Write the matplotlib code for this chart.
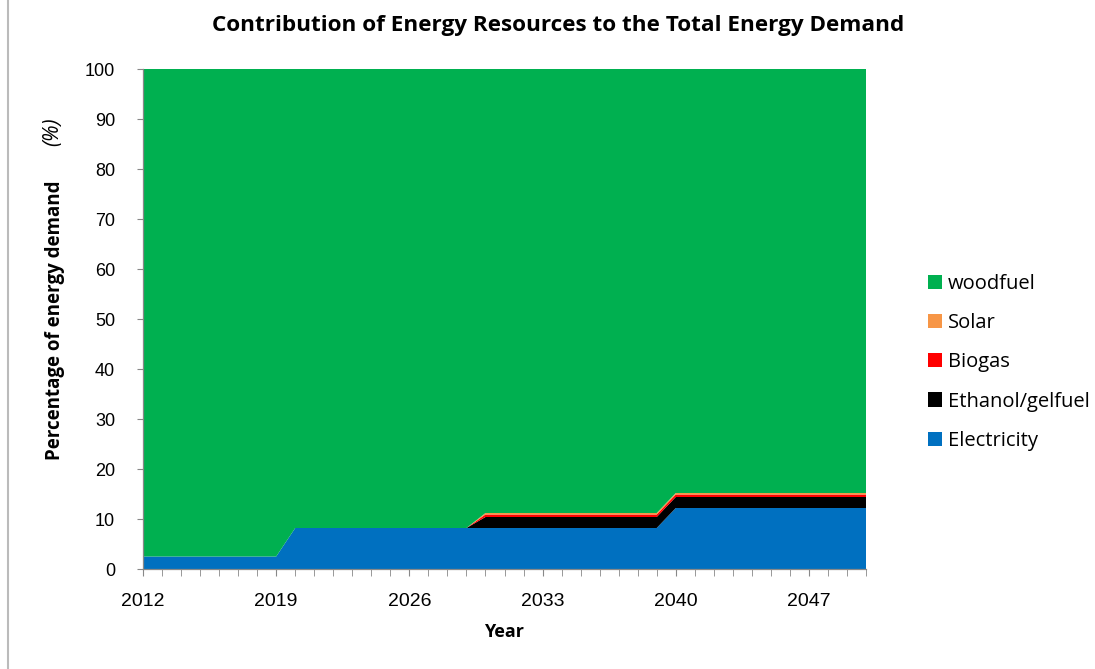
import matplotlib
matplotlib.use('Agg')
import matplotlib.pyplot as plt
from matplotlib.ticker import MultipleLocator, FixedLocator
from matplotlib.patches import Patch

years = list(range(2012, 2051))
electricity = [2.5] * 8 + [8.2] * 20 + [12.2] * 11
ethanol = [0.0] * 18 + [2.2] * 21
biogas = [0.0] * 18 + [0.5] * 21
solar = [0.0] * 18 + [0.3] * 21
woodfuel = [97.5] * 8 + [91.8] * 10 + [88.8] * 10 + [84.8] * 11
label_years = years[::7]

names = ['Electricity', 'Ethanol/gelfuel', 'Biogas', 'Solar', 'woodfuel']
colors = ['#0070C0', '#000000', '#FF0000', '#F79646', '#00B050']

fig = plt.figure(figsize=(10.95, 6.69), dpi=100)
fig.set_facecolor('white')
ax = fig.add_axes([143 / 1095, 1 - 569 / 669, 723 / 1095, 500 / 669])

ax.stackplot(years, electricity, ethanol, biogas, solar, woodfuel,
             colors=colors, linewidth=0)

ax.set_xlim(2012, 2050)
ax.set_ylim(0, 100)
ax.yaxis.set_major_locator(MultipleLocator(10))
ax.xaxis.set_major_locator(FixedLocator(label_years))
ax.xaxis.set_minor_locator(MultipleLocator(1))

for s in ['top', 'right']:
    ax.spines[s].set_visible(False)
for s in ['left', 'bottom']:
    ax.spines[s].set_color('#888888')
    ax.spines[s].set_linewidth(0.9)

tick_font = 'Liberation Sans'
ax.tick_params(axis='y', length=4, color='#888888', pad=16, labelsize=13)
ax.tick_params(axis='x', which='both', length=5, color='#888888', pad=12, labelsize=14)
for lab in ax.get_xticklabels() + ax.get_yticklabels():
    lab.set_fontfamily(tick_font)

fig.text(558 / 1095, 1 - 26 / 669, 'Contribution of Energy Resources to the Total Energy Demand',
         ha='center', va='center', fontsize=16.2, fontweight='bold', family='Open Sans')
fig.text(504 / 1095, 1 - 632 / 669, 'Year', ha='center', va='center',
         fontsize=13, fontweight='bold', family='Open Sans')
fig.text(55 / 1095, 1 - 320 / 669, 'Percentage of energy demand', rotation=90,
         ha='center', va='center', fontsize=13.5, fontweight='bold', family='Open Sans')
fig.text(53 / 1095, 1 - 132 / 669, '(%)', rotation=90, style='italic',
         ha='center', va='center', fontsize=15, family='Open Sans')

handles = [Patch(facecolor=c, edgecolor='none') for c in colors][::-1]
leg = fig.legend(handles, names[::-1], loc='upper left',
                 bbox_to_anchor=(910 / 1095, 1 - 256 / 669), frameon=False,
                 prop={'family': 'Open Sans', 'size': 14.5}, labelspacing=0.95,
                 handlelength=0.7, handleheight=0.7, handletextpad=0.3)

fig.add_artist(plt.Line2D([8 / 1095, 8 / 1095], [0, 1], color='#bbbbbb', linewidth=1.5))

fig.savefig('out.png', dpi=100)
